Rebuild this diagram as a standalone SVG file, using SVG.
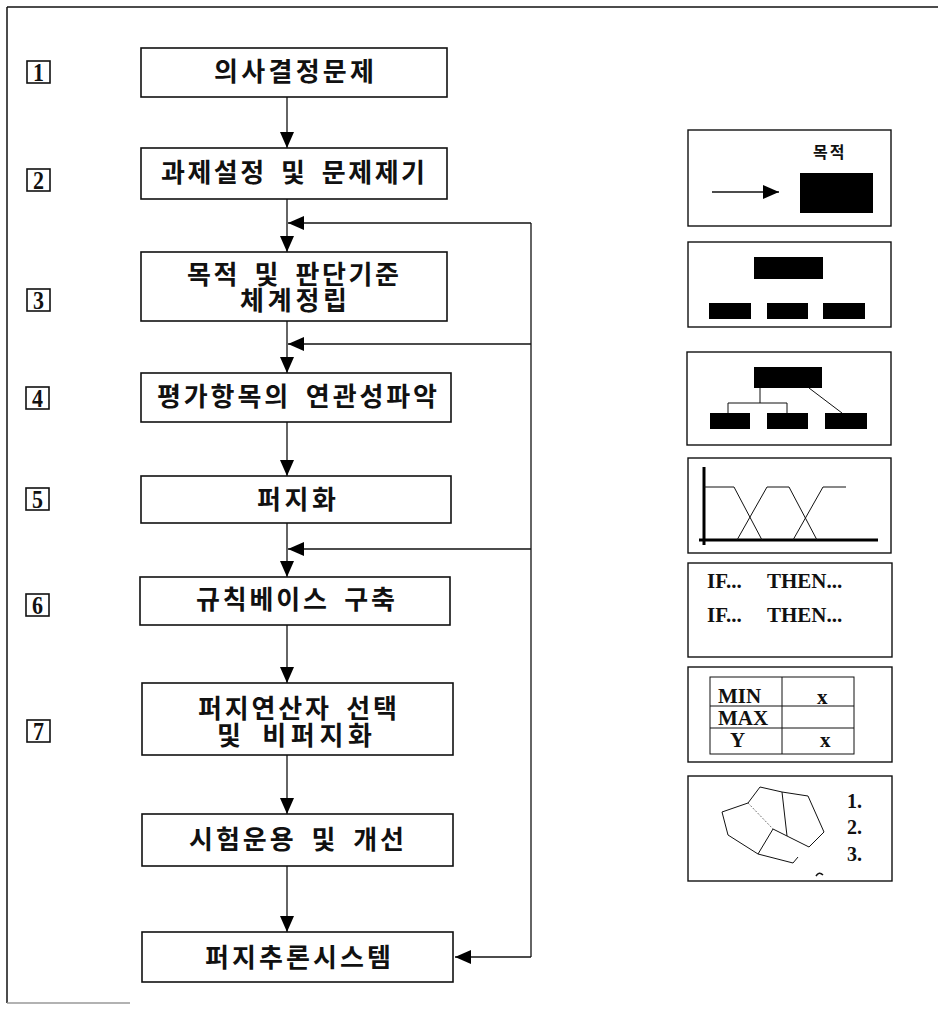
<svg xmlns="http://www.w3.org/2000/svg" width="938" height="1012" viewBox="0 0 938 1012">
<style>
.box{fill:#fff;stroke:#111;stroke-width:1.6}
.ln{fill:none;stroke:#111;stroke-width:1.3}
.kt{font-family:"Noto Sans CJK KR","Noto Sans",sans-serif;font-weight:700;font-size:26px;fill:#111;text-anchor:middle;word-spacing:6px}
.num{font-family:"Liberation Serif",serif;font-weight:700;font-size:26px;fill:#111}
.pn{fill:#fff;stroke:#111;stroke-width:1.4}
.blk{fill:#000}
.thin{fill:none;stroke:#111;stroke-width:1}
.st{font-family:"Liberation Serif",serif;font-weight:700;font-size:21px;fill:#111}
.tb{font-family:"Liberation Serif",serif;font-weight:700;font-size:21px;fill:#111}
.dg{font-family:"Liberation Serif",serif;font-weight:700;font-size:20px;fill:#111}
</style>
<defs>
<marker id="ah" viewBox="0 0 16 14" refX="16" refY="7" markerWidth="16" markerHeight="14" markerUnits="userSpaceOnUse" orient="auto">
<path d="M0,0 L16,7 L0,14 z" fill="#000"/>
</marker>
</defs>
<rect width="938" height="1012" fill="#fff"/>
<g id="frame">
<line x1="7" y1="7" x2="938" y2="7" stroke="#111" stroke-width="1.5"/>
<line x1="7" y1="7" x2="7" y2="1003" stroke="#111" stroke-width="1.5"/>
<line x1="7" y1="1003" x2="130" y2="1003" stroke="#999" stroke-width="1.5"/>
</g>
<g id="connectors">
<line class="ln" x1="287" y1="97" x2="287" y2="148" marker-end="url(#ah)"/>
<line class="ln" x1="287" y1="199" x2="287" y2="252" marker-end="url(#ah)"/>
<line class="ln" x1="287" y1="321" x2="287" y2="373" marker-end="url(#ah)"/>
<line class="ln" x1="287" y1="422" x2="287" y2="476" marker-end="url(#ah)"/>
<line class="ln" x1="287" y1="523" x2="287" y2="577" marker-end="url(#ah)"/>
<line class="ln" x1="287" y1="625" x2="287" y2="683" marker-end="url(#ah)"/>
<line class="ln" x1="287" y1="755" x2="287" y2="814" marker-end="url(#ah)"/>
<line class="ln" x1="287" y1="866" x2="287" y2="932" marker-end="url(#ah)"/>
<line class="ln" x1="531" y1="223" x2="531" y2="957"/>
<line class="ln" x1="531" y1="223" x2="288" y2="223" marker-end="url(#ah)"/>
<line class="ln" x1="531" y1="344" x2="288" y2="344" marker-end="url(#ah)"/>
<line class="ln" x1="531" y1="549" x2="288" y2="549" marker-end="url(#ah)"/>
<line class="ln" x1="531" y1="957" x2="455" y2="957" marker-end="url(#ah)"/>
</g>
<g id="step1"><rect class="box" x="141" y="48" width="306" height="49"/><text class="kt" x="294" y="81" textLength="160" lengthAdjust="spacing">의사결정문제</text></g>
<g id="step2"><rect class="box" x="141" y="148" width="306" height="51"/><text class="kt" x="293" y="182" textLength="264" lengthAdjust="spacing">과제설정 및 문제제기</text></g>
<g id="step3"><rect class="box" x="141" y="252" width="306" height="69"/><text class="kt" x="293" y="284" textLength="212" lengthAdjust="spacing">목적 및 판단기준</text><text class="kt" x="293.5" y="309.5" textLength="107" lengthAdjust="spacing">체계정립</text></g>
<g id="step4"><rect class="box" x="141" y="373" width="310" height="49"/><text class="kt" x="297" y="406" textLength="280" lengthAdjust="spacing">평가항목의 연관성파악</text></g>
<g id="step5"><rect class="box" x="141" y="476" width="310" height="47"/><text class="kt" x="296.5" y="508.5" textLength="79" lengthAdjust="spacing">퍼지화</text></g>
<g id="step6"><rect class="box" x="140" y="577" width="310" height="48"/><text class="kt" x="295.5" y="608.5" textLength="199" lengthAdjust="spacing">규칙베이스 구축</text></g>
<g id="step7"><rect class="box" x="142" y="683" width="311" height="72"/><text class="kt" x="297.5" y="717.5" textLength="199" lengthAdjust="spacing">퍼지연산자 선택</text><text class="kt" x="294.5" y="744.5" textLength="155" lengthAdjust="spacing">및 비퍼지화</text></g>
<g id="step8"><rect class="box" x="142" y="814" width="311" height="52"/><text class="kt" x="296.5" y="848.5" textLength="215" lengthAdjust="spacing">시험운용 및 개선</text></g>
<g id="step9"><rect class="box" x="142" y="932" width="311" height="50"/><text class="kt" x="298" y="966.5" textLength="186" lengthAdjust="spacing">퍼지추론시스템</text></g>
<g id="labels">
<g id="lab1"><rect class="box" x="27" y="61" width="23" height="22"/><text class="num" x="33" y="81" textLength="11" lengthAdjust="spacingAndGlyphs">1</text></g>
<g id="lab2"><rect class="box" x="27" y="169" width="23" height="22"/><text class="num" x="33" y="189" textLength="11" lengthAdjust="spacingAndGlyphs">2</text></g>
<g id="lab3"><rect class="box" x="27" y="289" width="23" height="22"/><text class="num" x="33" y="309" textLength="11" lengthAdjust="spacingAndGlyphs">3</text></g>
<g id="lab4"><rect class="box" x="26" y="387" width="23" height="22"/><text class="num" x="32" y="407" textLength="11" lengthAdjust="spacingAndGlyphs">4</text></g>
<g id="lab5"><rect class="box" x="26" y="488" width="23" height="22"/><text class="num" x="32" y="508" textLength="11" lengthAdjust="spacingAndGlyphs">5</text></g>
<g id="lab6"><rect class="box" x="26" y="594" width="23" height="22"/><text class="num" x="32" y="614" textLength="11" lengthAdjust="spacingAndGlyphs">6</text></g>
<g id="lab7"><rect class="box" x="27" y="720" width="23" height="22"/><text class="num" x="33" y="740" textLength="11" lengthAdjust="spacingAndGlyphs">7</text></g>
</g>
<g id="panel1">
<rect class="pn" x="688" y="130" width="203" height="96"/>
<text x="813" y="158" style="font-family:'Noto Sans CJK KR',sans-serif;font-weight:700;font-size:16px;letter-spacing:2px;fill:#111">목적</text>
<line class="ln" x1="712" y1="192" x2="779" y2="192" marker-end="url(#ah)"/>
<rect class="blk" x="800" y="173" width="73" height="40"/>
</g>
<g id="panel2">
<rect class="pn" x="688" y="242" width="203" height="85"/>
<rect class="blk" x="754" y="257" width="69" height="22"/>
<rect class="blk" x="709" y="303" width="42" height="16"/>
<rect class="blk" x="767" y="303" width="41" height="16"/>
<rect class="blk" x="823" y="303" width="42" height="16"/>
</g>
<g id="panel3">
<rect class="pn" x="687" y="352" width="204" height="93"/>
<rect class="blk" x="754" y="367" width="68" height="21"/>
<rect class="blk" x="710" y="413" width="40" height="16"/>
<rect class="blk" x="767" y="413" width="41" height="16"/>
<rect class="blk" x="825" y="413" width="42" height="16"/>
<path class="thin" d="M760,388 V403 M728,413 V403 H787 V413 M809,388 L842,413"/>
</g>
<g id="panel4">
<rect class="pn" x="688" y="458" width="203" height="95"/>
<line x1="704" y1="467" x2="704" y2="545" stroke="#000" stroke-width="3"/>
<line x1="699" y1="540" x2="878" y2="540" stroke="#000" stroke-width="3"/>
<path class="thin" d="M704,487 H734 L762,540 M737,540 L767,487 H789 L817,540 M793,540 L823,487 H846"/>
</g>
<g id="panel5">
<rect class="pn" x="688" y="563" width="204" height="94"/>
<text class="st" x="707" y="588">IF...</text><text class="st" x="767" y="588">THEN...</text>
<text class="st" x="707" y="622">IF...</text><text class="st" x="767" y="622">THEN...</text>
</g>
<g id="panel6">
<rect class="pn" x="688" y="667" width="204" height="95"/>
<rect class="thin" x="710" y="677" width="144" height="77"/>
<path class="thin" d="M782,677 V754 M710,706 H854 M710,728 H854"/>
<text class="tb" x="718" y="703"><tspan x="718">MIN</tspan><tspan x="718" dy="22">MAX</tspan><tspan x="730" dy="22">Y</tspan></text>
<text class="tb" y="704"><tspan x="817">x</tspan><tspan x="820" dy="43">x</tspan></text>
</g>
<g id="panel7">
<rect class="pn" x="688" y="776" width="204" height="105"/>
<path class="thin" d="M760,787 L782,792 L808,796 L824,832 L809,847 M798,857 L793,863 L758,854 L728,835 L722,812 L748,803 L760,787 M782,792 L787,836 M773,829 L758,854 M773,829 L809,847"/>
<path d="M748,803 L773,829" fill="none" stroke="#777" stroke-width="1" stroke-dasharray="2,1.5"/>
<text class="dg" x="847" y="808"><tspan x="847">1.</tspan><tspan x="847" dy="26">2.</tspan><tspan x="847" dy="27">3.</tspan></text>
<path d="M816,876 Q819,871 823,875" fill="none" stroke="#111" stroke-width="1.5"/>
</g>
</svg>
